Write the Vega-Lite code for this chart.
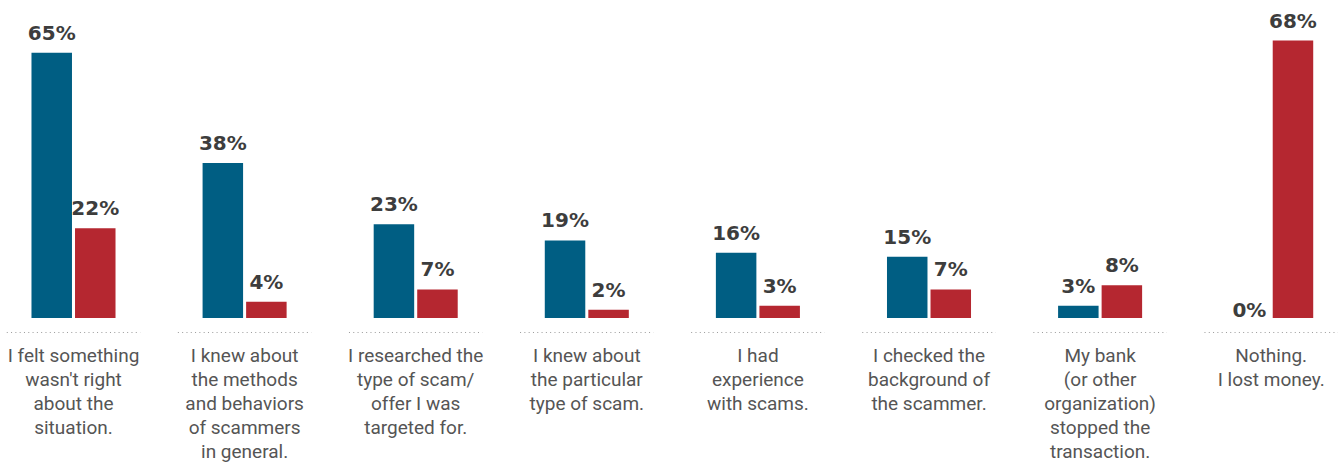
{
  "$schema": "https://vega.github.io/schema/vega-lite/v6.json",
  "width": 1340,
  "height": 333,
  "autosize": {"type": "none"},
  "padding": {"left": 0, "top": 0, "right": 0, "bottom": 129},
  "background": "white",
  "config": {"view": {"stroke": null}},
  "data": {
    "values": [
      {"cat": "I felt something|wasn't right|about the|situation.", "series": "Did not lose money", "value": 0.65},
      {"cat": "I felt something|wasn't right|about the|situation.", "series": "Lost money", "value": 0.22},
      {"cat": "I knew about|the methods|and behaviors|of scammers|in general.", "series": "Did not lose money", "value": 0.38},
      {"cat": "I knew about|the methods|and behaviors|of scammers|in general.", "series": "Lost money", "value": 0.04},
      {"cat": "I researched the|type of scam/|offer I was|targeted for.", "series": "Did not lose money", "value": 0.23},
      {"cat": "I researched the|type of scam/|offer I was|targeted for.", "series": "Lost money", "value": 0.07},
      {"cat": "I knew about|the particular|type of scam.", "series": "Did not lose money", "value": 0.19},
      {"cat": "I knew about|the particular|type of scam.", "series": "Lost money", "value": 0.02},
      {"cat": "I had|experience|with scams.", "series": "Did not lose money", "value": 0.16},
      {"cat": "I had|experience|with scams.", "series": "Lost money", "value": 0.03},
      {"cat": "I checked the|background of|the scammer.", "series": "Did not lose money", "value": 0.15},
      {"cat": "I checked the|background of|the scammer.", "series": "Lost money", "value": 0.07},
      {"cat": "My bank|(or other|organization)|stopped the|transaction.", "series": "Did not lose money", "value": 0.03},
      {"cat": "My bank|(or other|organization)|stopped the|transaction.", "series": "Lost money", "value": 0.08},
      {"cat": "Nothing.|I lost money.", "series": "Did not lose money", "value": 0.0},
      {"cat": "Nothing.|I lost money.", "series": "Lost money", "value": 0.68}
    ]
  },
  "encoding": {
    "x": {
      "field": "cat",
      "type": "nominal",
      "sort": null,
      "scale": {"range": [-12.05, 1356.75], "paddingInner": 0, "paddingOuter": 0},
      "axis": {
        "title": null,
        "domain": false,
        "ticks": false,
        "tickSize": 0,
        "labelPadding": 28,
        "labelAngle": 0,
        "labelAlign": "center",
        "labelBaseline": "alphabetic",
        "labelFont": "Roboto",
        "labelFontSize": 19,
        "labelColor": "#555555",
        "labelLineHeight": 24,
        "labelLimit": 0,
        "labelOverlap": false,
        "labelExpr": "split(datum.label, '|')"
      }
    },
    "y": {
      "field": "value",
      "type": "quantitative",
      "scale": {"domain": [-0.03676, 0.7794], "nice": false, "zero": false},
      "axis": null
    }
  },
  "layer": [
    {
      "transform": [{"filter": "datum.series === 'Did not lose money'"}],
      "mark": {"type": "rule", "strokeDash": [1, 3.3], "color": "#9a9a9a", "strokeWidth": 1},
      "encoding": {
        "x": {"field": "cat", "type": "nominal", "sort": null, "bandPosition": 0.11},
        "x2": {"field": "cat", "bandPosition": 0.89},
        "y": {"datum": -0.0355}
      }
    },
    {
      "mark": {"type": "bar"},
      "encoding": {
        "xOffset": {
          "field": "series",
          "type": "nominal",
          "sort": ["Did not lose money", "Lost money"],
          "scale": {"paddingInner": 0.06977, "paddingOuter": 1.0244}
        },
        "y2": {"datum": 0},
        "color": {
          "field": "series",
          "type": "nominal",
          "scale": {"domain": ["Did not lose money", "Lost money"], "range": ["#005e83", "#b52730"]},
          "legend": null
        }
      }
    },
    {
      "transform": [{"filter": "datum.value > 0"}],
      "mark": {"type": "text", "font": "DejaVu Sans", "fontWeight": "bold", "fontSize": 20, "color": "#3d3d3d", "baseline": "alphabetic", "align": "center", "dy": -13},
      "encoding": {
        "xOffset": {"field": "series", "type": "nominal", "sort": ["Did not lose money", "Lost money"]},
        "text": {"field": "value", "type": "quantitative", "format": ".0%"}
      }
    },
    {
      "transform": [{"filter": "datum.value <= 0"}],
      "mark": {"type": "text", "font": "DejaVu Sans", "fontWeight": "bold", "fontSize": 20, "color": "#3d3d3d", "baseline": "alphabetic", "align": "center", "dy": -1},
      "encoding": {
        "xOffset": {"field": "series", "type": "nominal", "sort": ["Did not lose money", "Lost money"]},
        "text": {"field": "value", "type": "quantitative", "format": ".0%"}
      }
    }
  ]
}
